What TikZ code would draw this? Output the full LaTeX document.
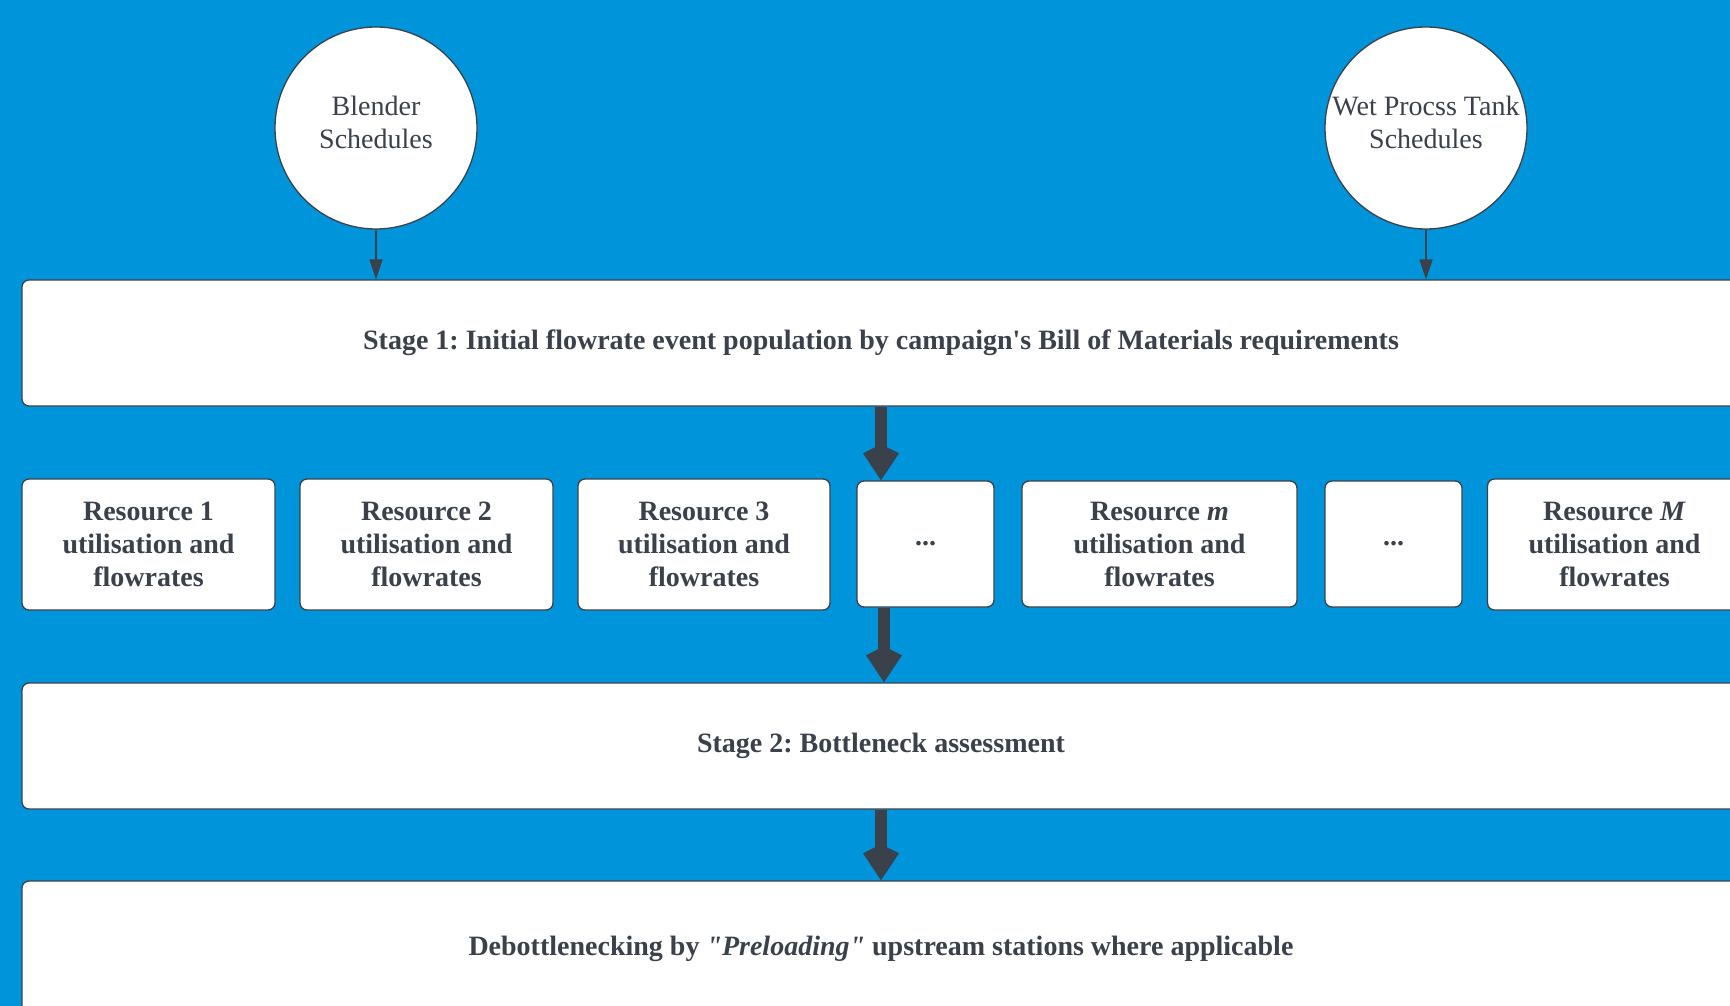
\documentclass[tikz,border=0pt]{standalone}
\usepackage{fontspec}
\setmainfont{Liberation Serif}
\usetikzlibrary{arrows.meta}
\definecolor{bgblue}{RGB}{0,148,218}
\definecolor{ink}{RGB}{58,65,74}
\frenchspacing
\tikzset{
  stagebox/.style={draw=ink, line width=1.3pt, fill=white, rounded corners=7pt,
    minimum width=1718pt, minimum height=126pt, inner sep=0pt, text=ink,
    font=\fontsize{28}{33}\selectfont\bfseries},
  resbox/.style={draw=ink, line width=1.3pt, fill=white, rounded corners=7pt,
    minimum height=131pt, inner sep=0pt, text=ink, align=center,
    font=\fontsize{28}{33}\selectfont\bfseries},
  schedcirc/.style={circle, draw=ink, line width=1.3pt, fill=white,
    minimum size=202pt, inner sep=0pt, text=ink, align=center,
    font=\fontsize{28}{33}\selectfont},
  thinarrow/.style={draw=ink, line width=1.6pt, -{Triangle[length=20pt,width=13pt]}},
  bigarrow/.style={draw=ink, line width=12pt, -{Kite[length=36pt,width=36pt,inset=9pt]}},
}
\begin{document}
\begin{tikzpicture}[x=1pt,y=-1pt]
\useasboundingbox (0,0) rectangle (1730,1006);
\clip (0,0) rectangle (1730,1006);
\fill[bgblue] (0,0) rectangle (1730,1006);

\node[schedcirc] (c1) at (376,128) {Blender\\Schedules\\[-22pt]\mbox{}};
\node[schedcirc] (c2) at (1426,128) {Wet Procss Tank\\Schedules\\[-22pt]\mbox{}};

\node[stagebox] (s1) at (881,343) {Stage 1: Initial flowrate event population by campaign\textquotesingle s Bill of Materials requirements};

\node[resbox, minimum width=253pt] (r1) at (148.5,544.5) {Resource 1\\utilisation and\\flowrates};
\node[resbox, minimum width=253pt] (r2) at (426.5,544.5) {Resource 2\\utilisation and\\flowrates};
\node[resbox, minimum width=252pt] (r3) at (704,544.5) {Resource 3\\utilisation and\\flowrates};
\node[resbox, minimum width=137pt, minimum height=126pt] (d1) at (925.5,544) {\raisebox{-3pt}{...}};
\node[resbox, minimum width=275pt, minimum height=126pt] (rm) at (1159.5,544) {Resource \textit{m}\\utilisation and\\flowrates};
\node[resbox, minimum width=137pt, minimum height=126pt] (d2) at (1393.5,544) {\raisebox{-3pt}{...}};
\node[resbox, minimum width=254pt] (rM) at (1614.5,544.5) {Resource \textit{M}\\utilisation and\\flowrates};

\node[stagebox] (s2) at (881,746) {Stage 2: Bottleneck assessment};
\node[stagebox, minimum height=136pt] (s3) at (881,949) {Debottlenecking by \textit{\textquotedbl Preloading\textquotedbl} upstream stations where applicable};

\draw[thinarrow] (c1.south) -- (c1.south |- s1.north);
\draw[thinarrow] (c2.south) -- (c2.south |- s1.north);
\draw[bigarrow] (s1.south) -- (s1.south |- d1.north);
\draw[bigarrow] ([xshift=3pt]s2.north |- d1.south) -- ([xshift=3pt]s2.north);
\draw[bigarrow] (s2.south) -- (s3.north);
\end{tikzpicture}
\end{document}
